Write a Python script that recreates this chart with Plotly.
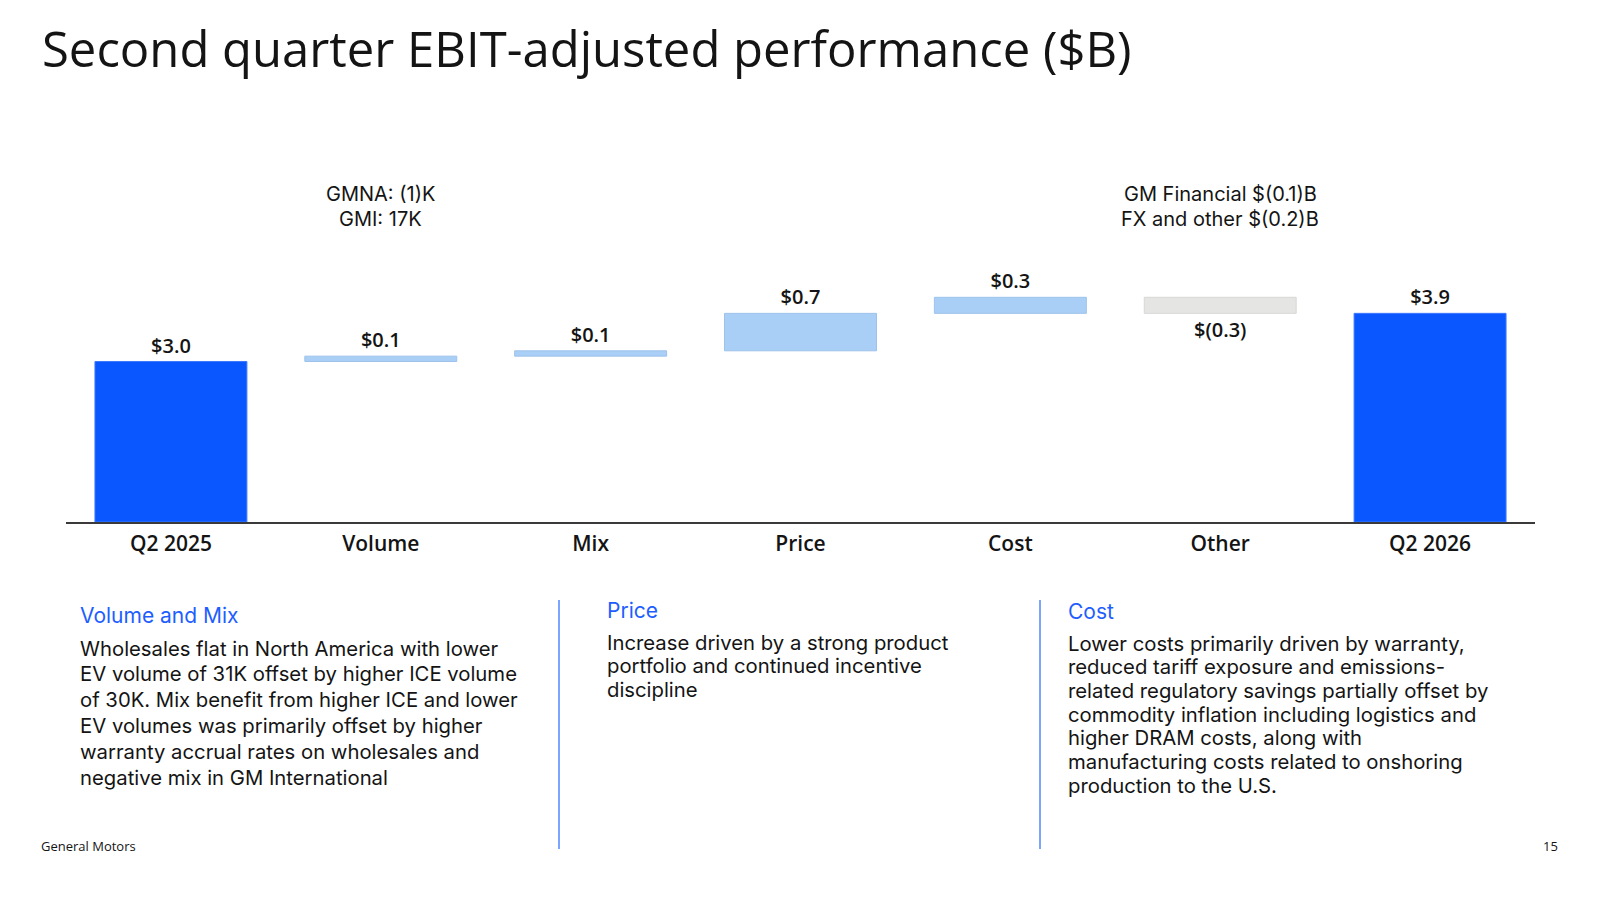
import plotly.graph_objects as go

# ---------------- data ----------------
categories = ["Q2 2025", "Volume", "Mix", "Price", "Cost", "Other", "Q2 2026"]
values = [3.0, 0.1, 0.1, 0.7, 0.3, -0.3, 3.9]
measures = ["absolute", "relative", "relative", "relative", "relative", "relative", "total"]
value_labels = ["$3.0", "$0.1", "$0.1", "$0.7", "$0.3", "$(0.3)", "$3.9"]

volume_note = ["GMNA: (1)K", "GMI: 17K"]
other_note = ["GM Financial $(0.1)B", "FX and other $(0.2)B"]

title_text = "Second quarter EBIT-adjusted performance ($B)"
footer_left = "General Motors"
footer_right = "15"

vm_heading = "Volume and Mix"
vm_lines = [
    "Wholesales flat in North America with lower",
    "EV volume of 31K offset by higher ICE volume",
    "of 30K. Mix benefit from higher ICE and lower",
    "EV volumes was primarily offset by higher",
    "warranty accrual rates on wholesales and",
    "negative mix in GM International",
]
price_heading = "Price"
price_lines = [
    "Increase driven by a strong product",
    "portfolio and continued incentive",
    "discipline",
]
cost_heading = "Cost"
cost_lines = [
    "Lower costs primarily driven by warranty,",
    "reduced tariff exposure and emissions-",
    "related regulatory savings partially offset by",
    "commodity inflation including logistics and",
    "higher DRAM costs, along with",
    "manufacturing costs related to onshoring",
    "production to the U.S.",
]

# ---------------- styling ----------------
W, H = 1600, 900
FONT = "Open Sans"
BODY_FONT = "Inter"
INK = "#141414"
DARK_BLUE = "#0A57FF"
LIGHT_BLUE = "#A9CFF7"
GRAY = "#E5E5E3"
HEAD_BLUE = "#1E5EFF"
RULE_BLUE = "#5287FF"


def px(x):
    return x / W


def py(y):
    return 1 - y / H


# y-axis geometry: baseline at 522px, 53.5 px per $1B
y_max = 5.1
base_px = 522
unit_px = 53.5
top_px = base_px - y_max * unit_px

fig = go.Figure()
fig.add_trace(
    go.Waterfall(
        x=categories,
        y=values,
        measure=measures,
        text=value_labels,
        textposition="outside",
        textfont=dict(family=FONT, size=20, color=INK, weight=600),
        increasing=dict(marker=dict(color=LIGHT_BLUE, line=dict(color="#9DC2EA", width=1))),
        decreasing=dict(marker=dict(color=GRAY, line=dict(color="#D8D8D6", width=1))),
        totals=dict(marker=dict(color=DARK_BLUE, line=dict(color="#3D78FF", width=1))),
        connector=dict(visible=False),
        cliponaxis=False,
        hoverinfo="skip",
    )
)

annotations = []

# title
annotations.append(dict(
    text=title_text, x=px(40), y=py(48), xref="paper", yref="paper",
    xanchor="left", yanchor="middle", showarrow=False,
    font=dict(family=FONT, size=49, color=INK),
))

# notes above bars
for cat, note in (("Volume", volume_note), ("Other", other_note)):
    for i, line in enumerate(note):
        annotations.append(dict(
            text=line, x=cat, y=py(194 + 25.5 * i), xref="x", yref="paper",
            xanchor="center", yanchor="middle", showarrow=False,
            font=dict(family=BODY_FONT, size=20, color=INK),
        ))


def add_section(heading, lines, x0, head_y, first_y, spacing):
    annotations.append(dict(
        text=heading, x=px(x0), y=py(head_y), xref="paper", yref="paper",
        xanchor="left", yanchor="middle", showarrow=False,
        font=dict(family=BODY_FONT, size=21, color=HEAD_BLUE),
    ))
    for i, line in enumerate(lines):
        annotations.append(dict(
            text=line, x=px(x0), y=py(first_y + spacing * i), xref="paper", yref="paper",
            xanchor="left", yanchor="middle", showarrow=False,
            font=dict(family=BODY_FONT, size=20.3, color=INK),
        ))


add_section(vm_heading, vm_lines, 78, 615, 648, 25.8)
add_section(price_heading, price_lines, 605, 610, 642, 23.6)
add_section(cost_heading, cost_lines, 1066, 611, 643, 23.7)

# footer
annotations.append(dict(
    text=footer_left, x=px(39), y=py(846), xref="paper", yref="paper",
    xanchor="left", yanchor="middle", showarrow=False,
    font=dict(family=FONT, size=13, color=INK),
))
annotations.append(dict(
    text=footer_right, x=px(1560), y=py(846), xref="paper", yref="paper",
    xanchor="right", yanchor="middle", showarrow=False,
    font=dict(family=FONT, size=13, color=INK),
))

shapes = []
for xr in (559, 1040):
    shapes.append(dict(
        type="line", xref="paper", yref="paper",
        x0=px(xr), x1=px(xr), y0=py(600), y1=py(849),
        line=dict(color=RULE_BLUE, width=1.5),
    ))

fig.update_layout(
    width=W, height=H,
    margin=dict(l=0, r=0, t=0, b=0),
    paper_bgcolor="white", plot_bgcolor="white",
    showlegend=False,
    waterfallgap=0.276,
    annotations=annotations,
    shapes=shapes,
    xaxis=dict(
        domain=[px(66), px(1535)],
        showline=True, linecolor="#3A3A3A", linewidth=1.5,
        ticks="", showgrid=False, zeroline=False,
        tickfont=dict(family=FONT, size=21, color=INK, weight=600),
        ticklabelstandoff=2,
        fixedrange=True,
    ),
    yaxis=dict(
        domain=[py(base_px), py(top_px)],
        range=[0, y_max],
        visible=False, showgrid=False, zeroline=False,
        fixedrange=True,
    ),
)

fig.write_html("out.html")
